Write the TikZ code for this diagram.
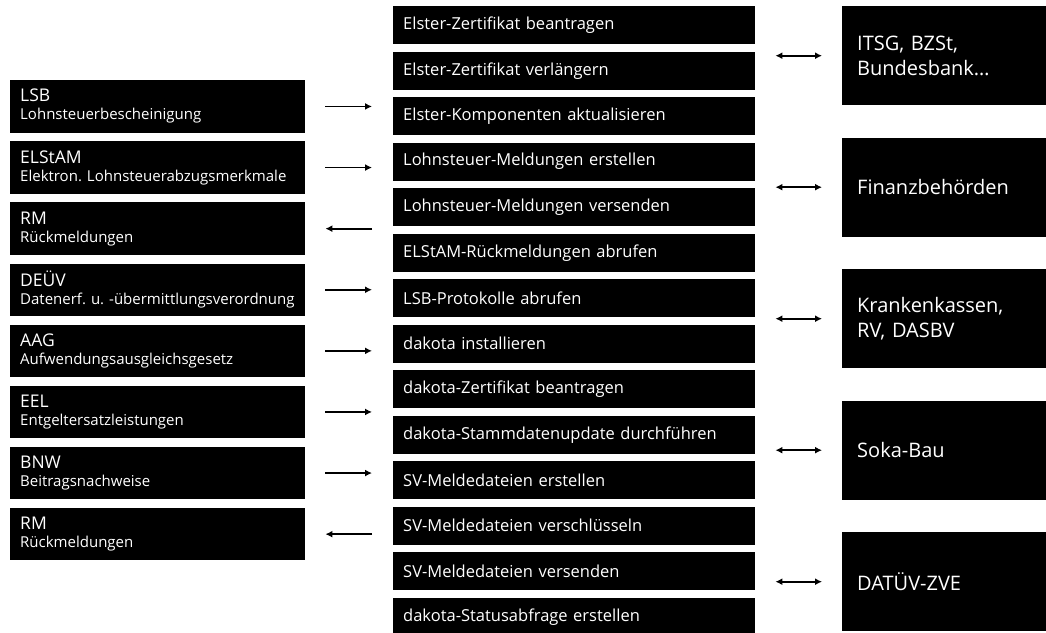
\documentclass[tikz,border=0pt]{standalone}
\usepackage{fontspec}
\setmainfont{Open Sans}
\usetikzlibrary{arrows.meta}

\newcommand{\kurz}[1]{{\fontsize{17.5}{17}\selectfont #1}}
\frenchspacing

\tikzset{
  regel/.style={fill=black, text=white, anchor=north west, inner xsep=10pt, inner ysep=0pt,
    text width=275pt, minimum height=52.5pt, align=left, font=\fontsize{15}{18}\selectfont},
  aufgabe/.style={fill=black, text=white, anchor=north west, inner xsep=10pt, inner ysep=0pt,
    text width=342pt, minimum height=38pt, align=left, font=\fontsize{16.5}{18}\selectfont},
  stelle/.style={fill=black, text=white, anchor=north west, inner xsep=15pt, inner ysep=0pt,
    text width=174pt, minimum height=99pt, align=left, font=\fontsize{20}{25}\selectfont},
  pfeil/.style={line width=1.8pt, -{Latex[length=7pt,width=7pt]}},
  doppel/.style={line width=1.8pt, {Latex[length=7pt,width=7pt]}-{Latex[length=7pt,width=7pt]}}
}

\begin{document}
\begin{tikzpicture}[x=1pt,y=-1pt]
  \useasboundingbox (0,0) rectangle (1046,632);

  % Meldeverfahren links
  \node[regel] (lsb) at (10,80) {\kurz{LSB}\\Lohnsteuerbescheinigung};
  \node[regel] (elstam) at (10,141.1) {\kurz{ELStAM}\\Elektron. Lohnsteuerabzugsmerkmale};
  \node[regel] (rma) at (10,202.2) {\kurz{RM}\\Rückmeldungen};
  \node[regel] (deuev) at (10,263.3) {\kurz{DEÜV}\\Datenerf. u. -übermittlungsverordnung};
  \node[regel] (aag) at (10,324.4) {\kurz{AAG}\\Aufwendungsausgleichsgesetz};
  \node[regel] (eel) at (10,385.5) {\kurz{EEL}\\Entgeltersatzleistungen};
  \node[regel] (bnw) at (10,446.6) {\kurz{BNW}\\Beitragsnachweise};
  \node[regel] (rmb) at (10,507.7) {\kurz{RM}\\Rückmeldungen};

  % Funktionen in der Mitte
  \node[aufgabe] (m1) at (393,6) {Elster-Zertifikat beantragen};
  \node[aufgabe] (m2) at (393,51.5) {Elster-Zertifikat verlängern};
  \node[aufgabe] (m3) at (393,97) {Elster-Komponenten aktualisieren};
  \node[aufgabe] (m4) at (393,142.5) {Lohnsteuer-Meldungen erstellen};
  \node[aufgabe] (m5) at (393,188) {Lohnsteuer-Meldungen versenden};
  \node[aufgabe] (m6) at (393,233.5) {ELStAM-Rückmeldungen abrufen};
  \node[aufgabe] (m7) at (393,279) {LSB-Protokolle abrufen};
  \node[aufgabe] (m8) at (393,324.5) {dakota installieren};
  \node[aufgabe] (m9) at (393,370) {dakota-Zertifikat beantragen};
  \node[aufgabe] (m10) at (393,415.5) {dakota-Stammdatenupdate durchführen};
  \node[aufgabe] (m11) at (393,461) {SV-Meldedateien erstellen};
  \node[aufgabe] (m12) at (393,506.5) {SV-Meldedateien verschlüsseln};
  \node[aufgabe] (m13) at (393,552) {SV-Meldedateien versenden};
  \node[aufgabe] (m14) at (393,597.5) {dakota-Statusabfrage erstellen};

  % Annahmestellen rechts
  \node[stelle] (itsg) at (842,6) {ITSG, BZSt,\\Bundesbank…};
  \node[stelle] (finanz) at (842,137.5) {Finanzbehörden};
  \node[stelle] (kk) at (842,269) {Krankenkassen,\\RV, DASBV};
  \node[stelle] (soka) at (842,400.5) {Soka-Bau};
  \node[stelle] (datuev) at (842,532) {DATÜV-ZVE};

  % Pfeile links
  \draw[pfeil, shorten <=20pt, shorten >=21pt] (lsb.east) -- (lsb.east -| m1.west);
  \draw[pfeil, shorten <=20pt, shorten >=21pt] (elstam.east) -- (elstam.east -| m1.west);
  \draw[pfeil, shorten <=21pt, shorten >=20pt] (rma.east -| m1.west) -- (rma.east);
  \draw[pfeil, shorten <=20pt, shorten >=21pt] (deuev.east) -- (deuev.east -| m1.west);
  \draw[pfeil, shorten <=20pt, shorten >=21pt] (aag.east) -- (aag.east -| m1.west);
  \draw[pfeil, shorten <=20pt, shorten >=21pt] (eel.east) -- (eel.east -| m1.west);
  \draw[pfeil, shorten <=20pt, shorten >=21pt] (bnw.east) -- (bnw.east -| m1.west);
  \draw[pfeil, shorten <=21pt, shorten >=20pt] (rmb.east -| m1.west) -- (rmb.east);

  % Pfeile rechts
  \draw[doppel, shorten <=20pt, shorten >=20pt] (itsg.west -| m1.east) -- (itsg.west);
  \draw[doppel, shorten <=20pt, shorten >=20pt] (finanz.west -| m1.east) -- (finanz.west);
  \draw[doppel, shorten <=20pt, shorten >=20pt] (kk.west -| m1.east) -- (kk.west);
  \draw[doppel, shorten <=20pt, shorten >=20pt] (soka.west -| m1.east) -- (soka.west);
  \draw[doppel, shorten <=20pt, shorten >=20pt] (datuev.west -| m1.east) -- (datuev.west);
\end{tikzpicture}
\end{document}
